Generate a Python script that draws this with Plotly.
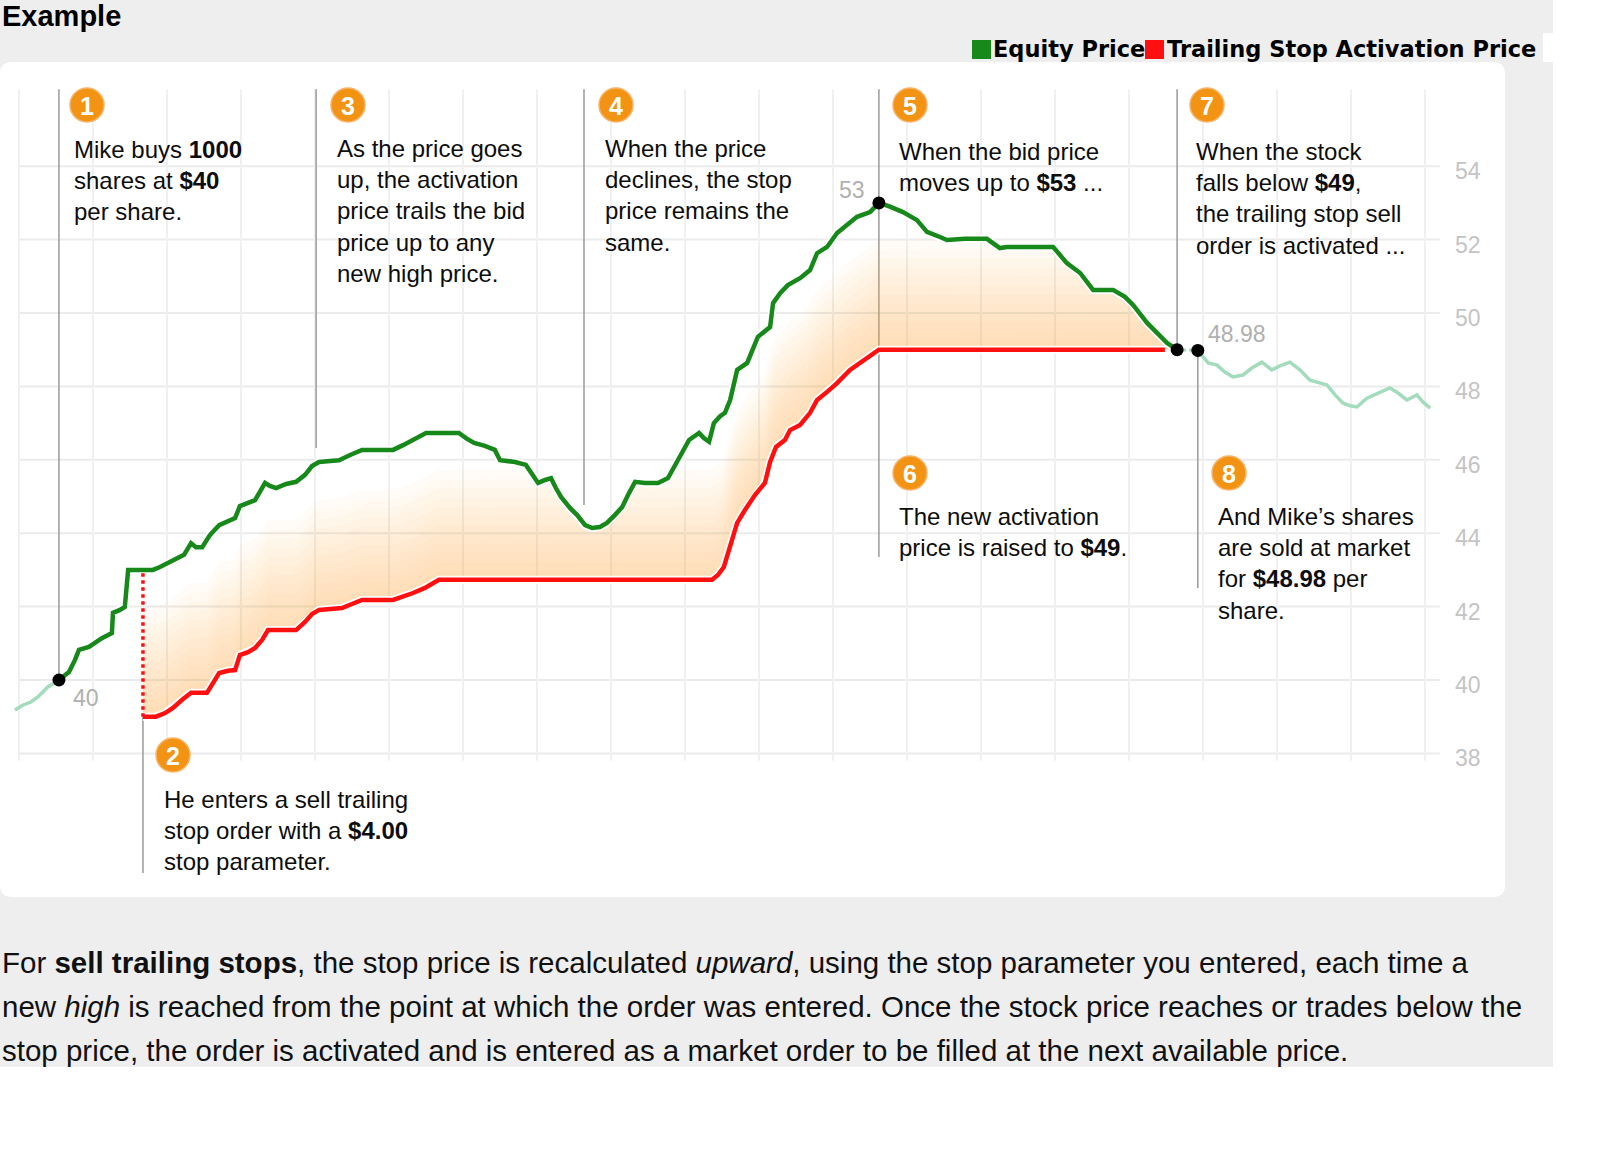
import numpy as np
import plotly.graph_objects as go

W, H = 1600, 1153

# ---------------- data ----------------
pre_days = [-1.1, 1.1, 3.2, 5.1, 7.8, 10.8]
pre_values = [39.18, 39.32, 39.40, 39.54, 39.81, 40.00]

price_days = [10.8, 13.5, 15.1, 16.2, 18.9, 22.4, 25.1, 25.4, 27.3, 28.6, 29.5, 30.8,
              33.5, 36.2, 38.1, 40.3, 42.4, 44.6, 46.5, 47.8, 49.5, 51.6, 54.1, 56.5,
              58.4, 59.7, 61.9, 63.8, 66.5, 67.8, 69.5, 72.2, 74.9, 77.3, 79.2, 81.1,
              84.1, 86.5, 89.5, 92.7, 96.2, 101.1, 103.8, 106.5, 110.0, 113.8, 118.9,
              120.8, 123.0, 125.9, 128.6, 130.0, 134.1, 137.0, 138.6, 140.3, 142.2,
              143.8, 145.1, 146.5, 148.9, 150.8, 153.0, 154.9, 157.0, 158.9, 161.1,
              163.0, 164.6, 166.5, 169.2, 172.7, 175.4, 177.3, 179.2, 181.1, 183.8,
              185.1, 186.5, 187.8, 189.5, 190.8, 192.2, 194.1, 196.8, 199.7, 203.0,
              203.8, 205.7, 207.8, 211.1, 213.8, 215.7, 218.4, 221.1, 223.8, 226.5,
              230.0, 232.4, 235.4, 238.9, 242.7, 245.4, 248.9, 250.8, 255.7, 261.6,
              265.1, 267.0, 273.2, 279.5, 283.2, 286.8, 290.3, 295.7, 298.9, 301.1,
              304.9, 307.6, 310.3, 313.0]
price_values = [40.00, 40.22, 40.54, 40.82, 40.90, 41.14, 41.28, 41.83, 41.91, 41.99, 43.00, 43.00,
                43.00, 43.00, 43.08, 43.19, 43.32, 43.41, 43.73, 43.62, 43.62, 43.95, 44.22, 44.31,
                44.41, 44.74, 44.82, 44.90, 45.37, 45.29, 45.23, 45.34, 45.40, 45.59, 45.83, 45.94,
                45.97, 45.99, 46.13, 46.27, 46.27, 46.27, 46.40, 46.54, 46.73, 46.73, 46.73,
                46.59, 46.46, 46.38, 46.27, 45.99, 45.94, 45.86, 45.61, 45.37, 45.45,
                45.50, 45.23, 44.99, 44.69, 44.50, 44.22, 44.14, 44.17, 44.28, 44.50,
                44.71, 45.04, 45.40, 45.37, 45.37, 45.50, 45.86, 46.19, 46.54, 46.73,
                46.59, 46.49, 47.00, 47.19, 47.28, 47.63, 48.45, 48.64, 49.35, 49.62,
                50.27, 50.54, 50.76, 50.95, 51.17, 51.63, 51.80, 52.18, 52.40, 52.62,
                52.75, 53.00, 52.90, 52.75, 52.53, 52.21, 52.07, 51.99, 52.02, 52.02,
                51.77, 51.80, 51.80, 51.80, 51.36, 51.09, 50.63, 50.63, 50.44, 50.22,
                49.73, 49.46, 49.18, 49.00]

stop_days = [33.5, 37.0, 39.5, 41.6, 44.1, 46.5, 50.8, 52.4, 54.1, 56.5, 58.4, 59.7,
             61.9, 63.8, 65.7, 67.3, 74.9, 77.3, 79.2, 81.1, 87.3, 90.0, 92.7, 101.1,
             103.8, 106.5, 109.7, 113.5, 187.3, 188.9, 190.5, 192.2, 194.1, 196.2,
             198.9, 201.6, 203.0, 204.6, 207.0, 208.4, 211.1, 213.8, 215.7, 218.4,
             221.1, 224.6, 228.6, 232.4, 309.7]
stop_values = [39.00, 39.00, 39.10, 39.24, 39.46, 39.65, 39.65, 39.92, 40.19, 40.25, 40.27, 40.68,
               40.76, 40.87, 41.09, 41.36, 41.36, 41.58, 41.80, 41.91, 41.96, 42.07, 42.18, 42.18,
               42.26, 42.37, 42.51, 42.73, 42.73, 42.86, 43.08, 43.68, 44.28, 44.63,
               45.04, 45.37, 45.94, 46.35, 46.54, 46.81, 46.95, 47.28, 47.63, 47.85,
               48.09, 48.45, 48.72, 49.00, 49.00]

post_days = [318.6, 321.4, 323.8, 325.9, 328.1, 330.8, 333.2, 335.9, 338.6, 340.8, 343.5,
             346.2, 348.9, 351.6, 353.5, 355.7, 357.8, 359.7, 361.6, 364.3, 367.3, 370.5,
             372.7, 375.1, 377.8, 379.5, 381.4]
post_values = [48.98, 48.64, 48.58, 48.39, 48.26, 48.31, 48.50, 48.66, 48.45, 48.56, 48.66,
               48.45, 48.17, 48.09, 48.04, 47.77, 47.55, 47.47, 47.44, 47.68, 47.82, 47.96,
               47.82, 47.63, 47.77, 47.57, 47.41]

buy_day, buy_price = 10.8, 40.00
peak_day, peak_price = 232.4, 53.00
trigger_day, trigger_price = 313.0, 49.00
sale_day, sale_price = 318.6, 48.98
stop_parameter = 4.00

y_ticks = [38, 40, 42, 44, 46, 48, 50, 52, 54]
x_grid_days = list(range(0, 381, 20))
legend_labels = ["Equity Price", "Trailing Stop Activation Price"]

# ---------------- styles / layout helpers ----------------
GREEN = "#17891b"
LIGHT_GREEN = "#a3dbbd"
RED = "#ff1010"
ORANGE = "#f39314"
TEXT = "#0d0d0d"
SANS = "Liberation Sans, Arial, sans-serif"

X0_PX, PX_PER_DAY = 19.0, 3.7
Y40_PX, PX_PER_UNIT = 680.0, 36.7
x_range = [(0 - X0_PX) / PX_PER_DAY, (W - X0_PX) / PX_PER_DAY]
y_range = [40 - (H - Y40_PX) / PX_PER_UNIT, 40 + Y40_PX / PX_PER_UNIT]


def P(px, py):
    return px / W, 1 - py / H


fig = go.Figure()

# ---- orange gradient fill between price and stop (stacked translucent bands) ----
grid = np.arange(stop_days[0], trigger_day + 0.001, 0.25)
g = np.interp(grid, price_days, price_values)
r = np.interp(grid, stop_days, stop_values)
n_bands, band_h = 12, 0.25
for k in range(n_bands):
    hi = np.minimum(r + (k + 1) * band_h, g)
    fig.add_trace(go.Scatter(
        x=np.concatenate([grid, grid[::-1]]),
        y=np.concatenate([r, hi[::-1]]),
        fill="toself", fillcolor="rgba(245,168,88,0.04)",
        line=dict(width=0), mode="lines", hoverinfo="skip", showlegend=False))

# ---- white halos ----
for xs, ys in [(price_days, price_values), (stop_days, stop_values)]:
    fig.add_trace(go.Scatter(x=xs, y=ys, mode="lines",
                             line=dict(color="white", width=8), hoverinfo="skip"))

# ---- lines ----
fig.add_trace(go.Scatter(x=pre_days, y=pre_values, mode="lines",
                         line=dict(color=LIGHT_GREEN, width=3.5), hoverinfo="skip"))
fig.add_trace(go.Scatter(x=post_days, y=post_values, mode="lines",
                         line=dict(color=LIGHT_GREEN, width=3.5), hoverinfo="skip"))
fig.add_trace(go.Scatter(x=[trigger_day, sale_day], y=[trigger_price, sale_price], mode="lines",
                         line=dict(color=LIGHT_GREEN, width=3, dash="dot"), hoverinfo="skip"))
fig.add_trace(go.Scatter(x=stop_days, y=stop_values, mode="lines",
                         line=dict(color=RED, width=4.5), name=legend_labels[1]))
fig.add_trace(go.Scatter(x=price_days, y=price_values, mode="lines",
                         line=dict(color=GREEN, width=4.5), name=legend_labels[0]))
fig.add_trace(go.Scatter(x=[stop_days[0], stop_days[0]],
                         y=[stop_values[0], stop_values[0] + stop_parameter], mode="lines",
                         line=dict(color=RED, width=3.5, dash="dot"), hoverinfo="skip"))
fig.add_trace(go.Scatter(x=[buy_day, peak_day, trigger_day, sale_day],
                         y=[buy_price, peak_price, trigger_price, sale_price], mode="markers",
                         marker=dict(color="black", size=13), hoverinfo="skip"))

shapes = []
# page background and card
gx1, gy0 = P(1553, 1067)
shapes.append(dict(type="rect", xref="paper", yref="paper", x0=0, x1=gx1, y0=gy0, y1=1,
                   fillcolor="#eeeeee", line=dict(width=0), layer="below"))
wx0, wy0 = P(1543, 62)
wx1, wy1 = P(1553, 33)
shapes.append(dict(type="rect", xref="paper", yref="paper", x0=wx0, x1=wx1, y0=wy0, y1=wy1,
                   fillcolor="white", line=dict(width=0), layer="below"))
cx0, cyt = P(0, 62)
cx1, cyb = P(1505, 897)
rx, ry = 12 / W, 12 / H
card = (f"M {cx0+rx},{cyt} L {cx1-rx},{cyt} Q {cx1},{cyt} {cx1},{cyt-ry} "
        f"L {cx1},{cyb+ry} Q {cx1},{cyb} {cx1-rx},{cyb} L {cx0+rx},{cyb} "
        f"Q {cx0},{cyb} {cx0},{cyb+ry} L {cx0},{cyt-ry} Q {cx0},{cyt} {cx0+rx},{cyt} Z")
shapes.append(dict(type="path", xref="paper", yref="paper", path=card,
                   fillcolor="white", line=dict(width=0), layer="below"))

# gridlines
for v in y_ticks:
    shapes.append(dict(type="line", xref="x", yref="y", x0=0, x1=384, y0=v, y1=v,
                       line=dict(color="#ebebeb", width=2), layer="below"))
for d in x_grid_days:
    shapes.append(dict(type="line", xref="x", yref="y", x0=d, x1=d, y0=37.8, y1=56.1,
                       line=dict(color="#f0f0f0", width=2), layer="below"))

# callout lines
CALLOUT_TOP = 56.1
callouts = [
    (buy_day, buy_price, CALLOUT_TOP),
    (80.3, 46.32, CALLOUT_TOP),
    (152.7, 44.77, CALLOUT_TOP),
    (peak_day, 43.35, CALLOUT_TOP),
    (trigger_day, trigger_price, CALLOUT_TOP),
    (stop_days[0], 34.74, stop_values[0]),
    (sale_day, 42.51, sale_price),
]
for d, y0, y1 in callouts:
    shapes.append(dict(type="line", xref="x", yref="y", x0=d, x1=d, y0=y0, y1=y1,
                       line=dict(color="#9a9a9a", width=1.5), layer="below"))

annotations = []
# numbered circles
badges = [("1", 87, 105), ("3", 348, 105), ("4", 616, 105), ("5", 910, 105),
          ("7", 1207, 105), ("2", 173, 755), ("6", 910, 473), ("8", 1229, 473)]
for num, bx, by in badges:
    x0, y1 = P(bx - 17, by - 17)
    x1, y0 = P(bx + 17, by + 17)
    shapes.append(dict(type="circle", xref="paper", yref="paper", x0=x0, x1=x1, y0=y0, y1=y1,
                       fillcolor=ORANGE, line=dict(color="#f7b46a", width=1.5), layer="above"))
    ax, ay = P(bx, by + 1)
    annotations.append(dict(x=ax, y=ay, xref="paper", yref="paper", text=f"<b>{num}</b>",
                            showarrow=False, xanchor="center", yanchor="middle",
                            font=dict(family=SANS, size=25, color="white")))

texts = [
    ("Mike buys <b>1000</b><br>shares at <b>$40</b><br>per share.", 72, 134),
    ("As the price goes<br>up, the activation<br>price trails the bid<br>price up to any<br>new high price.", 335, 133),
    ("When the price<br>declines, the stop<br>price remains the<br>same.", 603, 133),
    ("When the bid price<br>moves up to <b>$53</b> ...", 897, 136),
    ("When the stock<br>falls below <b>$49</b>,<br>the trailing stop sell<br>order is activated ...", 1194, 136),
    ("He enters a sell trailing<br>stop order with a <b>$4.00</b><br>stop parameter.", 162, 784),
    ("The new activation<br>price is raised to <b>$49</b>.", 897, 501),
    ("And Mike\u2019s shares<br>are sold at market<br>for <b>$48.98</b> per<br>share.", 1216, 501),
]
for t, tx, ty in texts:
    ax, ay = P(tx, ty)
    annotations.append(dict(x=ax, y=ay, xref="paper", yref="paper", text=t, showarrow=False,
                            xanchor="left", yanchor="top", align="left",
                            font=dict(family=SANS, size=24, color=TEXT)))

# value labels at the event points
for d, v, txt, xs, ys in [(buy_day, buy_price, f"{buy_price:g}", 27, -18),
                          (peak_day, peak_price, f"{peak_price:g}", -27, 13),
                          (sale_day, sale_price, f"{sale_price:.2f}", 39, 16)]:
    annotations.append(dict(x=d, y=v, xref="x", yref="y", text=txt, showarrow=False,
                            xshift=xs, yshift=ys, xanchor="center", yanchor="middle",
                            font=dict(family=SANS, size=23, color="#b0b0b0")))

# right-hand value scale
for v in y_ticks:
    annotations.append(dict(x=1468 / W, y=v, xref="paper", yref="y", text=str(v), showarrow=False,
                            xanchor="center", yanchor="middle", yshift=-5,
                            font=dict(family=SANS, size=23, color="#c4c4c4")))

# title
tx, ty = P(0, 16)
annotations.append(dict(x=tx, y=ty, xref="paper", yref="paper", text="<b>Example</b>",
                        showarrow=False, xanchor="left", yanchor="middle",
                        font=dict(family=SANS, size=29, color="black")))

# legend
for (label, color), (sx, lx) in zip(zip(legend_labels, [GREEN, RED]), [(972, 991), (1145, 1165)]):
    x0, y1 = P(sx, 40)
    x1, y0 = P(sx + 19, 59)
    shapes.append(dict(type="rect", xref="paper", yref="paper", x0=x0, x1=x1, y0=y0, y1=y1,
                       fillcolor=color, line=dict(width=0), layer="above"))
    ax, ay = P(lx, 49)
    annotations.append(dict(x=ax, y=ay, xref="paper", yref="paper", text=f"<b>{label}</b>",
                            showarrow=False, xanchor="left", yanchor="middle",
                            font=dict(family="DejaVu Sans, sans-serif", size=22.5, color="black")))

# explanation paragraph
para = [
    ("For <b>sell trailing stops</b>, the stop price is recalculated <i>upward</i>, using the stop "
     "parameter you entered, each time a", 962),
    ("new <i>high</i> is reached from the point at which the order was entered. Once the stock "
     "price reaches or trades below the", 1006),
    ("stop price, the order is activated and is entered as a market order to be filled at the "
     "next available price.", 1050),
]
for t, py in para:
    ax, ay = P(0, py)
    annotations.append(dict(x=ax, y=ay, xref="paper", yref="paper", text=t, showarrow=False,
                            xanchor="left", yanchor="middle",
                            font=dict(family=SANS, size=29.5, color="#111111")))

fig.update_layout(
    width=W, height=H, margin=dict(l=0, r=0, t=0, b=0),
    paper_bgcolor="white", plot_bgcolor="rgba(0,0,0,0)",
    showlegend=False, hovermode=False,
    xaxis=dict(range=x_range, visible=False, fixedrange=True),
    yaxis=dict(range=y_range, visible=False, fixedrange=True),
    shapes=shapes, annotations=annotations,
)

fig.write_html("out.html", config={"displayModeBar": False},
               post_script="document.body.style.margin='0';document.body.style.overflow='hidden';")
